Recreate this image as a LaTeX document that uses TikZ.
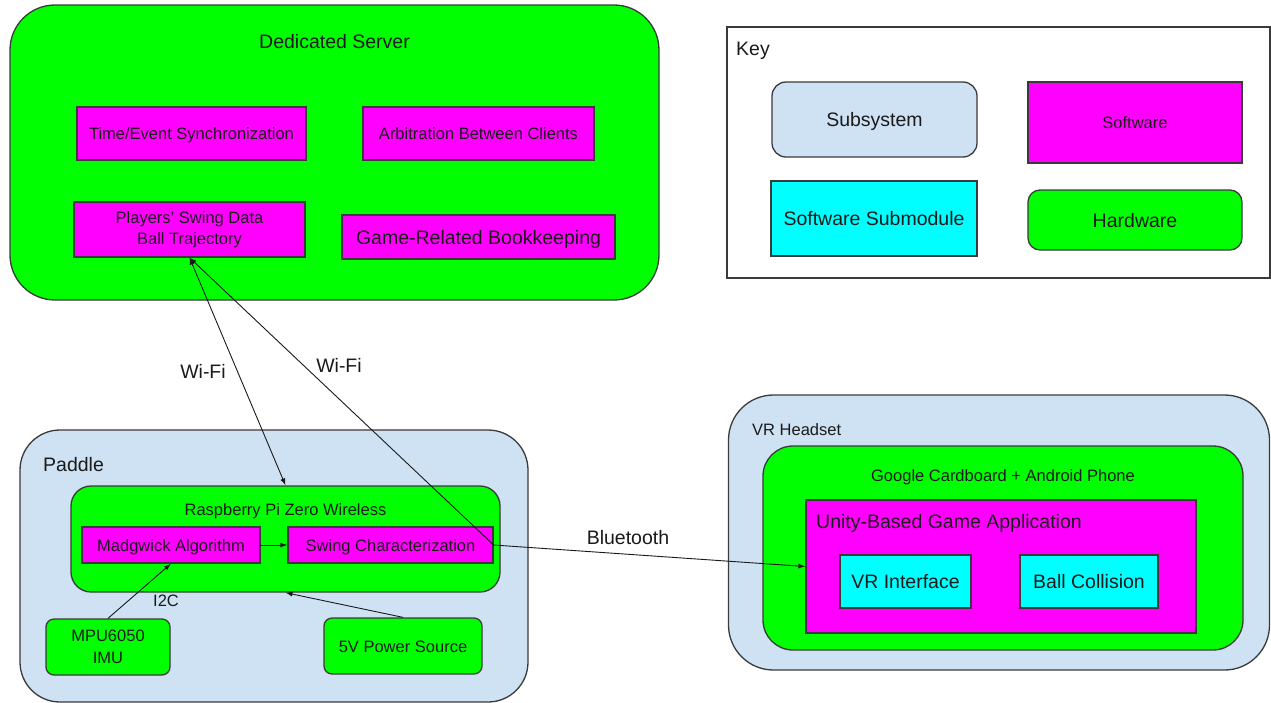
\documentclass[tikz,border=0pt]{standalone}
\usepackage{fontspec}
\setmainfont{Liberation Sans}
\usetikzlibrary{arrows.meta}
\newcommand\smtxt{\fontsize{16.5}{21.5}\selectfont}
\newcommand\lgtxt{\fontsize{19.5}{23}\selectfont}
\definecolor{hwgreen}{HTML}{00FF00}
\definecolor{swmag}{HTML}{FF00FF}
\definecolor{subcyan}{HTML}{00FFFF}
\definecolor{sysblue}{HTML}{CFE2F3}
\definecolor{edge}{HTML}{3A3A3A}
\definecolor{ink}{HTML}{1A1A1A}
\tikzset{
  blk/.style={draw=edge, line width=1.3pt, inner sep=0pt, text=ink, align=center},
  onesm/.style={text height=15.5pt, text depth=3.5pt},
  onelg/.style={text height=18pt, text depth=4pt},
  hwbox/.style={blk, fill=hwgreen},
  swbox/.style={blk, fill=swmag},
  subbox/.style={blk, fill=subcyan},
  sysbox/.style={blk, fill=sysblue},
  lbl/.style={text=ink, inner sep=0pt},
  conn/.style={draw=ink, line width=0.9pt},
  tip/.tip={Latex[length=7pt,width=5pt]}
}
\begin{document}
\begin{tikzpicture}[x=1pt,y=-1pt]
\useasboundingbox (0,0) rectangle (1271,702);
\fill[white] (0,0) rectangle (1271,702);

% Dedicated server
\node[hwbox, rounded corners=45pt, minimum width=649pt, minimum height=295pt] (server) at (334.5,152.5) {};
\node[lbl, font=\lgtxt] (servert) at (334.5,42) {Dedicated Server};
\node[swbox, onesm, minimum width=229pt, minimum height=53pt, font=\smtxt] (ts) at (191.5,133.5) {Time/Event Synchronization};
\node[swbox, onesm, minimum width=231pt, minimum height=53pt, font=\smtxt] (arb) at (478.5,133.5) {Arbitration Between Clients};
\node[swbox, minimum width=231pt, minimum height=55pt, font=\smtxt] (players) at (189.5,229.5) {Players' Swing Data\\Ball Trajectory};
\node[swbox, onelg, minimum width=273pt, minimum height=44pt, font=\lgtxt] (book) at (478.5,237) {Game-Related Bookkeeping};

% Key
\node[draw=edge, line width=1.3pt, minimum width=543pt, minimum height=251pt, inner sep=0pt] (key) at (998.5,152.5) {};
\node[lbl, font=\lgtxt, anchor=west] (keyt) at (736,51) {Key};
\node[sysbox, onelg, rounded corners=14pt, minimum width=205pt, minimum height=75pt, font=\lgtxt] (ksub) at (874.5,119.5) {Subsystem};
\node[swbox, onesm, minimum width=214pt, minimum height=81pt, font=\smtxt] (ksw) at (1135,122.5) {Software};
\node[subbox, onelg, minimum width=206pt, minimum height=75pt, font=\lgtxt] (ksm) at (874,218.5) {Software Submodule};
\node[hwbox, onelg, rounded corners=12pt, minimum width=214pt, minimum height=60pt, font=\lgtxt] (khw) at (1135,220) {Hardware};

% Paddle
\node[sysbox, rounded corners=40pt, minimum width=508pt, minimum height=272pt] (paddle) at (274,566) {};
\node[lbl, font=\lgtxt, anchor=west] (paddlet) at (43,465) {Paddle};
\node[hwbox, rounded corners=20pt, minimum width=429pt, minimum height=106pt] (rpi) at (285.5,539) {};
\node[lbl, font=\smtxt] (rpit) at (285.5,511) {Raspberry Pi Zero Wireless};
\node[swbox, onesm, minimum width=178pt, minimum height=36pt, font=\smtxt] (madg) at (171,545) {Madgwick Algorithm};
\node[swbox, onesm, minimum width=205pt, minimum height=36pt, font=\smtxt] (swing) at (390.5,545) {Swing Characterization};
\node[hwbox, rounded corners=8pt, minimum width=124pt, minimum height=56pt, font=\smtxt] (mpu) at (108,647) {MPU6050\\IMU};
\node[hwbox, onesm, rounded corners=8pt, minimum width=158pt, minimum height=56pt, font=\smtxt] (pwr) at (403,646) {5V Power Source};

% VR headset
\node[sysbox, rounded corners=45pt, minimum width=541pt, minimum height=275pt] (vr) at (999,532.5) {};
\node[lbl, font=\smtxt, anchor=west] (vrt) at (752,430) {VR Headset};
\node[hwbox, rounded corners=30pt, minimum width=480pt, minimum height=204pt] (card) at (1003,548) {};
\node[lbl, font=\smtxt] (cardt) at (1003,477) {Google Cardboard + Android Phone};
\node[swbox, minimum width=390pt, minimum height=133pt] (unity) at (1001,566.5) {};
\node[lbl, font=\lgtxt, anchor=west] (unityt) at (816,523) {Unity-Based Game Application};
\node[subbox, onelg, minimum width=131pt, minimum height=53pt, font=\lgtxt] (vri) at (905.5,581.5) {VR Interface};
\node[subbox, onelg, minimum width=138pt, minimum height=53pt, font=\lgtxt] (ballc) at (1089,581.5) {Ball Collision};

% Connectors
\draw[conn, tip-tip] (players.south) -- (rpi.north);
\draw[conn, tip-] (players.south) -- (swing.east);
\draw[conn, -tip] (swing.east) -- (unity.west);
\draw[conn, -tip] (madg.east) -- (swing.west);
\draw[conn, -tip] (mpu.north) -- (madg.south);
\draw[conn, -tip] (pwr.north) -- (rpi.south);

% Connector labels
\node[lbl, font=\lgtxt] (wifia) at (203,371) {Wi-Fi};
\node[lbl, font=\lgtxt] (wifib) at (339,365) {Wi-Fi};
\node[lbl, font=\lgtxt] (bt) at (628,538) {Bluetooth};
\node[lbl, font=\smtxt] (i2c) at (166,601) {I2C};
\end{tikzpicture}
\end{document}
